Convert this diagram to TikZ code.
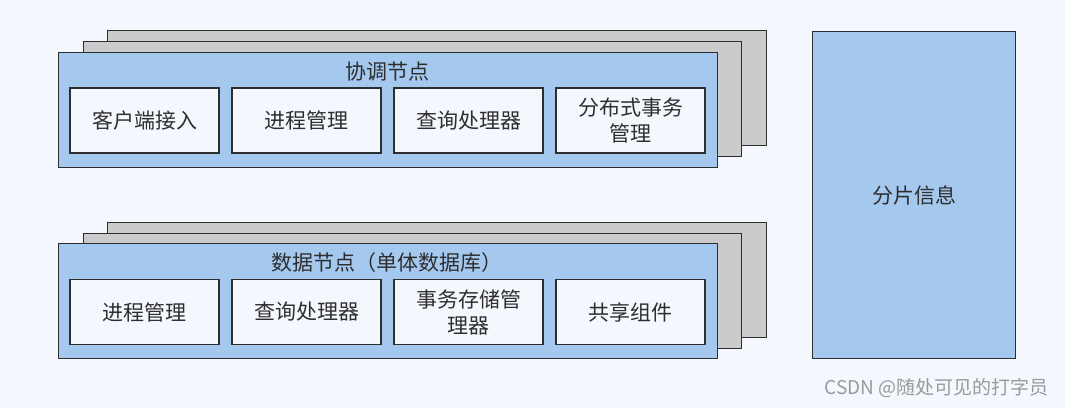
\documentclass[tikz,border=0pt]{standalone}
\usepackage{fontspec}
\setmainfont{Noto Sans CJK SC}
\newfontfamily\cjk{Noto Sans CJK SC}
\definecolor{bgc}{HTML}{F4F7FD}
\definecolor{bluec}{HTML}{A5C8EF}
\definecolor{grayc}{HTML}{CBCBCB}
\definecolor{linec}{HTML}{2E2E2E}
\definecolor{wmc}{HTML}{9A9A9A}
\begin{document}
\begin{tikzpicture}[x=1pt,y=-1pt,
  every node/.style={font=\cjk\fontsize{21}{26}\selectfont, text=linec, inner sep=0pt},
  layer/.style={draw=linec, line width=1.4pt, fill=grayc, anchor=north west},
  frontlayer/.style={draw=linec, line width=1.4pt, fill=bluec, anchor=north west},
  cell/.style={draw=linec, line width=1.4pt, fill=bgc, minimum width=149pt, minimum height=65pt, align=center}]
\fill[bgc] (0,0) rectangle (1065,408);
\useasboundingbox (0,0) rectangle (1065,408);
% top stack
\node[layer, minimum width=659pt, minimum height=115pt] (tb) at (107,30) {};
\node[layer, minimum width=658pt, minimum height=115pt] (tm) at (83,41) {};
\node[frontlayer, minimum width=659pt, minimum height=115pt] (tf) at (58,52) {};
\node (tt) at (387,72) {协调节点};
\node[cell] (c1) at (144.5,120.5) {客户端接入};
\node[cell] (c2) at (306.5,120.5) {进程管理};
\node[cell] (c3) at (468.5,120.5) {查询处理器};
\node[cell] (c4) at (630.5,120.5) {分布式事务\\管理};
% bottom stack
\node[layer, minimum width=659pt, minimum height=115pt] (bb) at (107,222) {};
\node[layer, minimum width=658pt, minimum height=115pt] (bm) at (83,233) {};
\node[frontlayer, minimum width=659pt, minimum height=115pt] (bf) at (58,243) {};
\node (bt) at (387,263) {数据节点（单体数据库）};
\node[cell] (d1) at (144.5,312) {进程管理};
\node[cell] (d2) at (306.5,312) {查询处理器};
\node[cell] (d3) at (468.5,312) {事务存储管\\理器};
\node[cell] (d4) at (630.5,312) {共享组件};
% right
\node[frontlayer, minimum width=203pt, minimum height=327pt] (sh) at (812,31) {};
\node at (sh.center) {分片信息};
% watermark
\node[text=wmc, font=\cjk\fontsize{19}{20}\selectfont, anchor=east] (wm) at (1049,388) {CSDN @随处可见的打字员};
\end{tikzpicture}
\end{document}
